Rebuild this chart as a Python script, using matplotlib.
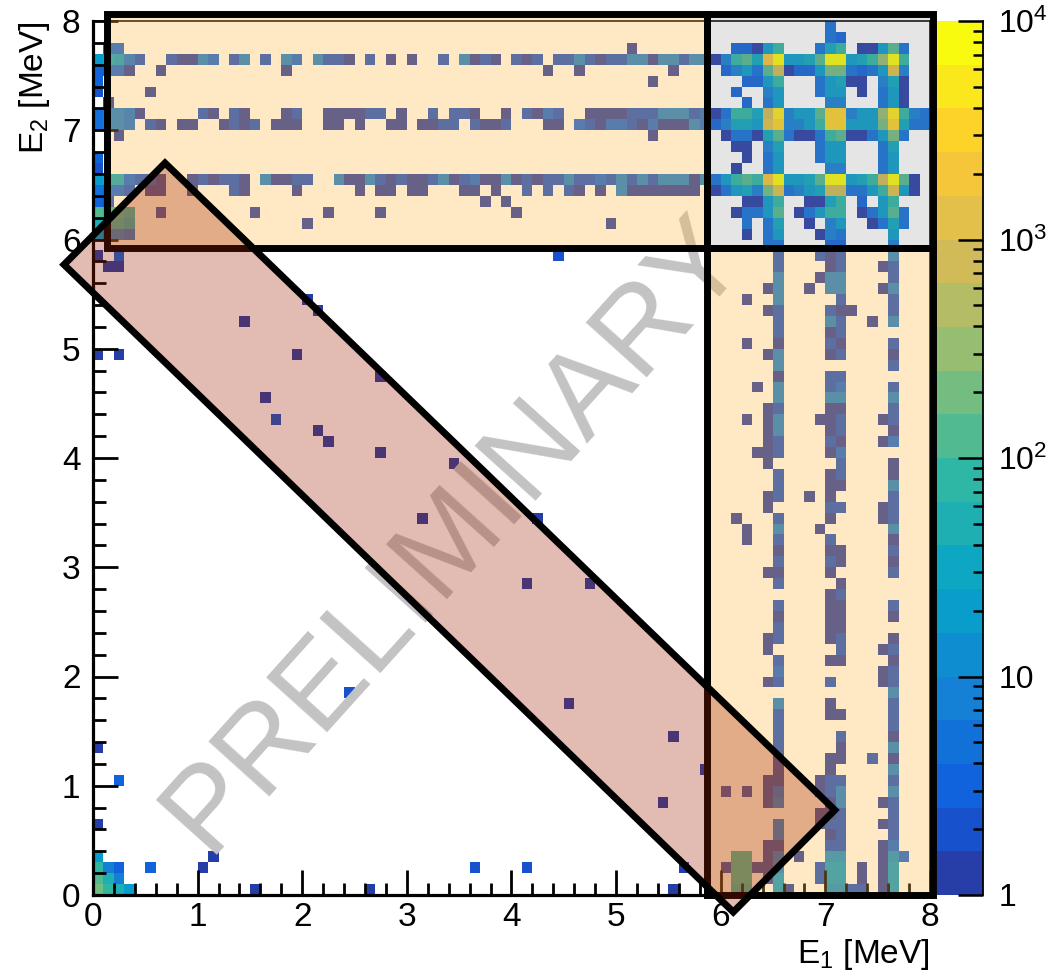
import numpy as np
import matplotlib
matplotlib.use("Agg")
import matplotlib.pyplot as plt
from matplotlib.colors import ListedColormap, BoundaryNorm
from matplotlib.patches import Rectangle, Polygon
from matplotlib.ticker import MultipleLocator, FixedLocator, FixedFormatter, NullFormatter

plt.rcParams['font.family'] = ['Liberation Sans', 'DejaVu Sans']
plt.rcParams['mathtext.fontset'] = 'custom'
plt.rcParams['mathtext.rm'] = 'Liberation Sans'
plt.rcParams['mathtext.it'] = 'Liberation Sans'
plt.rcParams['mathtext.bf'] = 'Liberation Sans:bold'

# ---------------------------------------------------------------------------
# 2D histogram: 80 x 80 bins of 0.1 MeV.  Key = E2 bin index, value = list of
# "E1bin:count" or "E1first-E1last:count" entries for the filled cells.
# ---------------------------------------------------------------------------
n_bins = 80
e_lo, e_hi = 0.0, 8.0

row_hits = {
    79: "70:5",
    78: "70:5 71:3",
    77: "1-2:3 51:1 61-62:3 63:1 64:20 65:80 69:5 70:32 71:80 73-74:1 75:20 76:125 77:5",
    76: "0:20 1:32 2:20 3:5 4:2 7:2 8-9:1 10:8 11:3 13:2 14:8 16:2 18:8 19:3 21:8 22-23:2 24:1 "
        "26:2 28:1 30:1 33:2 35:8 36:1 37:2 38:1 40:2 41:1 42:2 44-45:2 46:8 47:2 48:1 49-50:2 "
        "51-52:8 53:1 54-55:8 56:2 57-58:8 59:1 60:8 61:80 62:125 63:32 64:2000 65:8000 66-67:20 "
        "68:32 69:125 70-71:8000 72:20 73:32 74:80 75:320 76:8000 77:80",
    75: "0:3 1-2:3 3:1 6:1 18:1 43:1 46:1 55:1 60:3 61:8 62:20 63:5 64:125 65:800 66:1 67-68:3 "
        "69:20 70-71:200 72:5 73:3 74:5 75:20 76:1250 77:8",
    74: "0:3 53:1 62-63:3 64:20 65:80 69:5 70:20 71:32 72-73:1 75:8 76:32 77:1",
    73: "0:2 5:1 61:3 64:8 65:20 69:5 70-71:20 73:1 75:5 76:20 77:1",
    72: "1:1 62:3 64:5 65:20 70-71:8 75:5 76:20 77:1",
    71: "0:5 1-2:8 3:5 4:1 10:2 11:1 13:2 14:1 18:1 19:2 22-25:1 26-27:2 29:1 32:2 34-35:2 36:1 "
        "39:1 41:2 42:1 43:3 44:2 47-50:1 51-53:2 54-56:8 57:2 58:3 59:1 60:5 61-62:80 63:32 "
        "64:800 65:5000 66:8 67-68:20 69:125 70-71:3200 72:8 73-74:20 75:320 76:5000 77:80 78:8 79:5",
    70: "0:5 1-2:8 3:5 5:2 6:1 8-9:1 12:1 13:2 14:1 15:2 17-19:1 22-23:1 25:1 28-29:1 31-32:1 "
        "33-34:2 36:2 37-38:1 39:2 43-44:1 46:3 47:2 48:1 49-50:3 51:2 52:1 53:3 54-56:1 57:8 "
        "58:3 59:3 60:8 61-62:32 63:20 64:1250 65:3200 66-67:8 68:20 69:80 70-71:3200 72-74:20 "
        "75:200 76:3200 77:32 78-79:5",
    69: "2:1 53:1 60:1 61-62:5 63:1 64:32 65:125 66:5 67-68:1 69:5 70:80 71:125 72-73:1 74:5 "
        "75:20 76:200 77:5",
    68: "61-62:1 64:8 65:32 69:5 70-71:20 75:5 76:32",
    67: "0:3 62:1 64:5 65:20 69:5 70-71:20 75:5 76:20",
    66: "0:2 61:1 64:5 65:20 70-71:8 75:5 76:20",
    65: "0:20 1-2:32 3:3 4-5:2 6:1 9:1 10:2 11:1 12-13:2 14:1 16:8 17-18:1 19-20:2 23:8 24-25:1 "
        "26:8 27:2 28:1 29:2 30-31:1 32:2 33:8 34:1 35:2 36:3 37-38:1 39:8 40:1 41:2 42:1 43-44:2 "
        "45:8 46-47:2 48:3 49:2 50:8 51:2 52:8 53:2 54-56:8 57:1 58:8 59:5 60:20 61:80 62:125 "
        "63:80 64:2000 65:8000 66-67:20 68:32 69:125 70-71:8000 72:20 73:32 74:80 75:800 76:8000 "
        "77:125 78:1",
    64: "0:5 1-2:3 3:2 5-6:1 9:1 13:2 14:1 19:1 25:1 27-28:1 30-31:1 35-36:1 38:1 41:2 43:2 45:2 "
        "46:1 48:1 50:8 51-57:1 59:1 60:5 61:20 62:32 63:8 64:200 65:1250 66:5 67:8 68:20 69:32 "
        "70-71:800 72-73:5 74:20 75:80 76:1250 77:20 78:1",
    63: "0:3 1:2 37:1 39:1 62-63:1 64:20 65:80 68-69:1 70:32 71:80 73:3 75:20 76:80",
    62: "0:125 1-2:80 3:50 6:1 15:1 22:1 27:1 40:1 61:1 62-63:5 64:20 65:125 67:1 68:5 69:20 "
        "70-71:80 73:1 74:5 75:20 76:125 77:5",
    61: "0:50 1-2:50 3:32 20:1 49:1 62:5 64:5 65:32 68:1 70:8 71:20 74:1 75:5 76:32 77:5",
    60: "0:20 1-2:5 3:3 62:1 64:5 65:20 69:1 70:8 71:5 76:20",
    59: "64-65:5 70-71:3 76:8",
    58: "0:1 2:3 44:2 65:2 69:2 70:1 71:2 76:8",
    57: "1-2:1 65:2 70:1 71:2 75:1 76:2",
    56: "65:8 69:1 70-71:8 76:2",
    55: "64:1 65:8 68:1 70-71:8 75:1 76:8",
    54: "20:1 62:1 65:8 71:2 76:2",
    53: "21:1 64:1 65:2 70:2 71-72:1 76:2",
    52: "14:1 65:2 70:8 71:2 74:1 76:8",
    51: "65:2 70:1 71:2",
    50: "62:1 65:1 70:2 71:1 76:2",
    49: "0:1 2:1 19:1 64:1 65:8 70:1 71:2 76:1",
    48: "65:8 76:2",
    47: "27:1 65:1 70-71:2",
    46: "63:1 65:8 70:2 71:3 76:2",
    45: "16:1 65:8 70-71:8 76:8",
    44: "64:1 65:2 70-71:1 76:2",
    43: "17:2 62:1 64:1 65:8 69:1 70:1 71:2 75:1 76:2",
    42: "21:1 64:1 65:8 70:1 71:2 76:1",
    41: "22:1 64:1 65:2 70:2 71:1 75:1 76:3",
    40: "27:1 63-64:1 65:2 70:1 71:3",
    39: "34:1 64:1 71:2 76:1",
    38: "65:2 70:1 71:2 76:1",
    37: "65:2 70-71:1 76:8",
    36: "64:1 65:2 68:1 70:1 76:2",
    35: "64:1 70-71:2 75:1 76:2",
    34: "31:1 42:1 61:1 65:2 70:1 75:1 76:2",
    33: "62:1 65:8 69:1 76:8",
    32: "62:1 65:2 70:2 76:1",
    31: "65:1 70-71:1 76:2",
    30: "65:2 70:2 71:1 76:1",
    29: "64-65:1 70:1 76:2",
    28: "41:1 47:1 65:2 71:1",
    27: "70:1 71:2",
    26: "65:2 70-71:1 76:2",
    25: "65:1 70-71:1 76:1",
    24: "65:2 70-71:1",
    23: "64:1 65:2 70:1 71:2 76:1",
    22: "64:1 71:2 75:1 76:2",
    21: "65:2 70-71:1 76:1",
    20: "65:3 75:1 76:2",
    19: "64:1 65:2 70:2 75:1 76:2",
    18: "24:2 76:8",
    17: "45:1 65:8 70:1 76:2",
    16: "65:2 70-71:1 76:2",
    15: "65:2 76:2",
    14: "55:1 65:2 71:2 76:1",
    13: "0:1 65:2 71:1 76:8",
    12: "65:1 70-71:1 74:2 76:1",
    11: "58:1 65:1 70:1 76:8",
    10: "2:3 64:1 65:1 69:1 70-71:2 76:2",
    9:  "60:1 62:1 64:1 65:3 69:1 70:2 71:8 76:8",
    8:  "54:1 64:1 65:5 70:1 71:8 75:1 76:2",
    7:  "69:1 70:1 71:2 76:2",
    6:  "0:1 65:5 69:1 70-71:2 75:1 76:2",
    5:  "65:5 70:1 71:2 76:2",
    4:  "64:1 65:1 70-71:2 75:1 76:3",
    3:  "0:20 11:1 61-62:80 64:1 65:5 67:1 70-71:13 75:1 76:13 77:3",
    2:  "0:80 1:8 2:3 5:3 10:1 36:2 41:2 56:1 60:1 61-62:80 63-64:1 65:8 69:2 70-71:20 73:1 75:1 76:20",
    1:  "0:125 1:50 2:8 61-62:80 64:1 65:20 69:2 70-71:20 73:1 75:1 76:20",
    0:  "0:200 1:80 2:50 3:20 15:1 26:1 55:1 61-62:50 65:20 66:1 70-71:13 72:2 73:2 75:1 76:20",
}

# colour scale: 20 logarithmic contours between 1 and 10^4
n_contours = 20
z_lo, z_hi = 1.0, 1.0e4
cbar_ticks = [1, 10, 100, 1000, 10000]
cbar_ticklabels = ["1", "10", r"10$^{2}$", r"10$^{3}$", r"10$^{4}$"]

# ---------------------------------------------------------------------------
# "Bird" palette with 255 steps; each contour takes its colour like ROOT does
# ---------------------------------------------------------------------------
stops = np.linspace(0, 1, 9)
pal_r = [0.2082, 0.0592, 0.0780, 0.0232, 0.1802, 0.5301, 0.8186, 0.9956, 0.9764]
pal_g = [0.1664, 0.3599, 0.5041, 0.6419, 0.7178, 0.7492, 0.7328, 0.7862, 0.9832]
pal_b = [0.5293, 0.8684, 0.8385, 0.7914, 0.6425, 0.4662, 0.3499, 0.1968, 0.0539]
n_pal = 255
pos = np.linspace(0, 1, n_pal)
palette = np.column_stack([np.interp(pos, stops, pal_r),
                           np.interp(pos, stops, pal_g),
                           np.interp(pos, stops, pal_b)])
level_colors = [palette[int((k + 0.99) * n_pal / n_contours)] for k in range(n_contours)]
cmap = ListedColormap(level_colors)
bounds = z_lo * (z_hi / z_lo) ** (np.arange(n_contours + 1) / n_contours)
norm = BoundaryNorm(bounds, n_contours)

# fill the histogram
counts = np.zeros((n_bins, n_bins))
for j, spec in row_hits.items():
    for tok in spec.split():
        cols, val = tok.split(":")
        if "-" in cols:
            a, b = (int(c) for c in cols.split("-"))
        else:
            a = b = int(cols)
        counts[j, a:b + 1] = float(val)
hist = np.ma.masked_less_equal(counts, 0)

# ---------------------------------------------------------------------------
W, H = 1056, 977
fig = plt.figure(figsize=(W / 100, H / 100), dpi=100)
ax = fig.add_axes([93 / W, 82 / H, 837 / W, 874 / H])
cax = fig.add_axes([937 / W, 82 / H, 46 / W, 874 / H])

ax.imshow(hist, origin="lower", extent=(e_lo, e_hi, e_lo, e_hi), aspect="auto",
          interpolation="nearest", cmap=cmap, norm=norm, zorder=1)
ax.set_xlim(e_lo, e_hi)
ax.set_ylim(e_lo, e_hi)

# axes styling
for side in ("left", "bottom"):
    ax.spines[side].set_linewidth(2.3)
for side in ("top", "right"):
    ax.spines[side].set_linewidth(1.2)
for axis in (ax.xaxis, ax.yaxis):
    axis.set_major_locator(MultipleLocator(1))
    axis.set_minor_locator(MultipleLocator(0.2))
ax.tick_params(which="both", direction="in", top=False, right=False, width=2.0)
ax.tick_params(which="major", length=18, labelsize=24)
ax.tick_params(which="minor", length=9)
ax.tick_params(axis="x", pad=5)
ax.tick_params(axis="y", pad=9)

# watermark
ax.text(3.46, 3.30, "PRELIMINARY", rotation=48, rotation_mode="anchor",
        ha="center", va="center", fontsize=86, color="#c3c3c3", zorder=2)

# selection regions
peach = (1.0, 182 / 255, 62 / 255)
grey = (0.5, 0.5, 0.5)
rust = (160 / 255, 35 / 255, 0.0)
edge_lw = 5.0

top_box = (0.13, 5.92, 5.87, 8.06)
corner_box = (5.87, 5.92, 8.03, 8.06)
side_box = (5.87, 0.0, 8.03, 5.92)
diag_box = [(-0.277, 5.77), (0.688, 6.70), (7.09, 0.778), (6.12, -0.156)]

for (x0, y0, x1, y1), col, alpha in ((top_box, peach, 0.3),
                                     (corner_box, grey, 0.2),
                                     (side_box, peach, 0.3)):
    ax.add_patch(Rectangle((x0, y0), x1 - x0, y1 - y0, facecolor=col, alpha=alpha,
                           edgecolor="none", clip_on=False, zorder=3))
for (x0, y0, x1, y1) in (top_box, corner_box, side_box):
    ax.add_patch(Rectangle((x0, y0), x1 - x0, y1 - y0, facecolor="none",
                           edgecolor="black", linewidth=edge_lw, joinstyle="miter",
                           clip_on=False, zorder=3.5))
ax.add_patch(Polygon(diag_box, closed=True, facecolor=rust, alpha=0.3,
                     edgecolor="none", clip_on=False, zorder=4))
ax.add_patch(Polygon(diag_box, closed=True, facecolor="none", edgecolor="black",
                     linewidth=edge_lw, joinstyle="miter", clip_on=False, zorder=4.5))

# axis titles
fig.text(930 / W, 1 - 955 / H, r"E$_{1}$ [MeV]", ha="right", va="center", fontsize=24)
fig.text(35 / W, 1 - 21 / H, r"E$_{2}$ [MeV]", rotation=90, ha="center", va="top", fontsize=24)

# colour bar
mids = np.sqrt(bounds[:-1] * bounds[1:])
cax.set_yscale("log")
cax.pcolormesh([0, 1], bounds, mids[:, None], cmap=cmap, norm=norm,
               antialiased=False, linewidth=0)
cax.set_xlim(0, 1)
cax.set_ylim(z_lo, z_hi)
cax.set_xticks([])
for side in ("left", "top", "bottom"):
    cax.spines[side].set_visible(False)
cax.spines["right"].set_linewidth(1.3)
cax.yaxis.set_ticks_position("right")
cax.yaxis.set_label_position("right")
cax.yaxis.set_major_locator(FixedLocator(cbar_ticks))
cax.yaxis.set_major_formatter(FixedFormatter(cbar_ticklabels))
minor = [m * 10 ** d for d in range(4) for m in range(2, 10)]
cax.yaxis.set_minor_locator(FixedLocator(minor))
cax.yaxis.set_minor_formatter(NullFormatter())
cax.tick_params(which="both", direction="in", width=1.8, labelsize=23, pad=11)
cax.tick_params(which="major", length=18)
cax.tick_params(which="minor", length=7)

fig.savefig("out.png", dpi=100)
